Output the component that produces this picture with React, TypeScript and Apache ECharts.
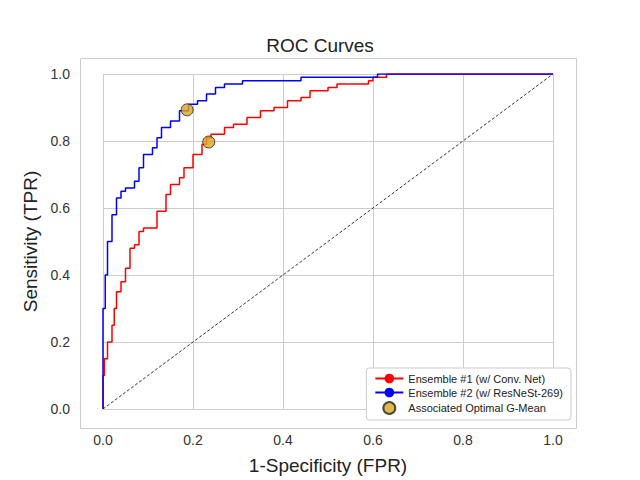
import React, { useRef, useEffect } from 'react'
import * as echarts from 'echarts'

// ROC points [fpr, tpr]
const ensemble1 = [
  [0, 0], [0.003, 0.1], [0.01, 0.15], [0.02, 0.2], [0.025, 0.25], [0.03, 0.3], [0.04, 0.35],
  [0.05, 0.38], [0.06, 0.42], [0.07, 0.48], [0.08, 0.49], [0.09, 0.53], [0.12, 0.54],
  [0.14, 0.59], [0.15, 0.64], [0.17, 0.67], [0.18, 0.69], [0.2, 0.72], [0.22, 0.76],
  [0.23, 0.79], [0.24, 0.81], [0.27, 0.82], [0.29, 0.84], [0.32, 0.85], [0.35, 0.87],
  [0.38, 0.89], [0.41, 0.9], [0.44, 0.92], [0.46, 0.93], [0.5, 0.95], [0.52, 0.96],
  [0.59, 0.97], [0.6, 0.98], [0.63, 0.99], [0.71, 1.0], [1, 1.0],
]
const ensemble2 = [
  [0, 0], [0, 0.12], [0.005, 0.3], [0.01, 0.4], [0.02, 0.5], [0.03, 0.58], [0.04, 0.63],
  [0.05, 0.65], [0.07, 0.66], [0.08, 0.68], [0.09, 0.72], [0.11, 0.76], [0.12, 0.78],
  [0.13, 0.81], [0.15, 0.84], [0.17, 0.86], [0.19, 0.89], [0.21, 0.91], [0.23, 0.92],
  [0.25, 0.94], [0.27, 0.96], [0.31, 0.97], [0.44, 0.98], [0.61, 0.99], [0.62, 1.0], [1, 1.0],
]
const optimalPoints = [[0.235, 0.797], [0.187, 0.893]]
const chancePoints = [[0, 0], [1, 1]]

const font = 'Liberation Sans, Arial, sans-serif'

function App() {
  const chartRef = useRef(null)

  useEffect(() => {
    const chart = echarts.init(chartRef.current, null, { renderer: 'svg' })
    const axisCommon = {
      min: 0,
      max: 1,
      interval: 0.2,
      axisLine: { show: false },
      axisTick: { show: false },
      splitLine: { lineStyle: { color: '#cccccc', width: 1 } },
      nameLocation: 'middle',
      nameTextStyle: { fontSize: 19, color: '#222', fontFamily: font },
    }
    chart.setOption({
      animation: false,
      textStyle: { fontFamily: font },
      title: {
        text: 'ROC Curves',
        left: 'center',
        top: 31,
        textStyle: { fontSize: 19, fontWeight: 'normal', color: '#222', fontFamily: font },
      },
      graphic: [
        {
          type: 'rect',
          shape: { x: 80.5, y: 58.5, width: 496, height: 370 },
          style: { fill: 'none', stroke: '#cccccc', lineWidth: 1 },
          silent: true,
        },
      ],
      grid: { left: 103, width: 450, top: 74, height: 336 },
      xAxis: {
        type: 'value',
        ...axisCommon,
        name: '1-Specificity (FPR)',
        nameGap: 47,
        axisLabel: { fontSize: 14, color: '#333', margin: 24, formatter: (v) => v.toFixed(1) },
      },
      yAxis: {
        type: 'value',
        ...axisCommon,
        name: 'Sensitivity (TPR)',
        nameGap: 62,
        axisLabel: { fontSize: 14, color: '#333', margin: 33, formatter: (v) => v.toFixed(1) },
      },
      legend: {
        orient: 'vertical',
        right: 69,
        bottom: 60,
        itemWidth: 28,
        itemHeight: 12,
        itemGap: 3,
        padding: [5, 8],
        borderColor: '#cccccc',
        borderWidth: 1,
        borderRadius: 3,
        backgroundColor: '#fff',
        textStyle: { fontSize: 11, color: '#222', fontFamily: font },
        data: [
          { name: 'Ensemble #1 (w/ Conv. Net)' },
          { name: 'Ensemble #2 (w/ ResNeSt-269)' },
          { name: 'Associated Optimal G-Mean', icon: 'circle' },
        ],
      },
      series: [
        {
          type: 'line',
          data: chancePoints,
          symbol: 'none',
          lineStyle: { color: '#000', width: 0.8, type: [3, 2] },
          silent: true,
        },
        {
          name: 'Ensemble #1 (w/ Conv. Net)',
          type: 'line',
          data: ensemble1,
          step: 'start',
          symbol: 'none',
          lineStyle: { color: '#ff0000', width: 1.5 },
          itemStyle: { color: '#ff0000' },
        },
        {
          name: 'Ensemble #2 (w/ ResNeSt-269)',
          type: 'line',
          data: ensemble2,
          step: 'start',
          symbol: 'none',
          lineStyle: { color: '#0000ff', width: 1.5 },
          itemStyle: { color: '#0000ff' },
        },
        {
          name: 'Associated Optimal G-Mean',
          type: 'scatter',
          data: optimalPoints,
          symbolSize: 12,
          itemStyle: { color: '#daa520', borderColor: '#222', borderWidth: 1 },
          z: 5,
        },
      ],
    })
    return () => {
      chart.dispose()
    }
  }, [])

  return (
    <div
      ref={chartRef}
      style={{ position: 'fixed', left: 0, top: 0, width: 640, height: 480, background: '#fff' }}
    ></div>
  )
}

export default App
